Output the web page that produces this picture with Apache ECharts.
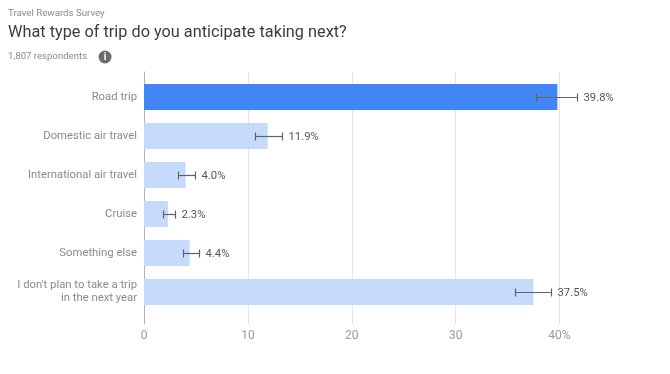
<!DOCTYPE html>
<html>
<head>
<meta charset="utf-8">
<style>html,body{margin:0;padding:0;background:#fff}#c{width:670px;height:374px}</style>
<script src="https://cdn.jsdelivr.net/npm/echarts@6/dist/echarts.min.js"></script>
</head>
<body>
<div id="c"></div>
<script>
const categories = ["Road trip","Domestic air travel","International air travel","Cruise","Something else","I don't plan to take a trip\nin the next year"];
const values = [39.8,11.9,4.0,2.3,4.4,37.5];
const errLow = [37.7,10.7,3.3,1.8,3.8,35.7];
const errHigh = [41.7,13.3,4.9,3.0,5.3,39.2];
const xTicks = [0,10,20,30,40];
const labelFont = 'Roboto, sans-serif';

const chart = echarts.init(document.getElementById('c'), null, {renderer:'canvas'});
const gridLeft = 144, gridRight = 670-559.5;
chart.setOption({
  animation:false,
  backgroundColor:'#fff',
  textStyle:{fontFamily:labelFont},
  title:[
    {text:'Travel Rewards Survey',left:8,top:9,padding:0,textStyle:{fontSize:9.7,fontWeight:'normal',color:'#8a8a8a',fontFamily:labelFont}},
    {text:'What type of trip do you anticipate taking next?',left:8,top:25,padding:0,textStyle:{fontSize:16.3,fontWeight:'normal',color:'#3c3c3c',fontFamily:labelFont}},
    {text:'1,807 respondents',left:8,top:52,padding:0,textStyle:{fontSize:9.6,fontWeight:'normal',color:'#8a8a8a',fontFamily:labelFont}}
  ],
  graphic:[
    {type:'circle',shape:{cx:105,cy:57,r:6.5},style:{fill:'#6b6b6b'},silent:true},
    {type:'text',x:105,y:57,style:{text:'i',fill:'#fff',font:'bold 10px Roboto, sans-serif',align:'center',verticalAlign:'middle'},silent:true}
  ],
  grid:[
    {left:gridLeft,right:gridRight,top:72,height:252},
    {left:gridLeft,right:gridRight,top:77.5,height:234}
  ],
  xAxis:[
    {type:'value',gridIndex:0,min:0,max:40,interval:10,
     axisLine:{show:false},axisTick:{show:false},
     splitLine:{show:true,lineStyle:{color:'#e3e3e3',width:1}},
     axisLabel:{color:'#9a9a9a',fontSize:12,margin:6,fontFamily:labelFont,
       formatter:v=>{const i=xTicks.indexOf(v);return i===xTicks.length-1?xTicks[i]+'%':String(xTicks[i]);}}},
    {type:'value',gridIndex:1,min:0,max:40,interval:10,show:false}
  ],
  yAxis:[
    {type:'value',gridIndex:0,min:0,max:1,show:true,
     axisLine:{show:true,onZero:false,lineStyle:{color:'#b5b5b5',width:1}},
     axisTick:{show:false},axisLabel:{show:false},splitLine:{show:false}},
    {type:'category',gridIndex:1,inverse:true,data:categories,
     axisLine:{show:false},axisTick:{show:false},splitLine:{show:false},
     axisLabel:{color:'#8a8a8a',fontSize:11.3,margin:7,lineHeight:13,align:'right',padding:[4,0,0,0],fontFamily:labelFont}}
  ],
  series:[
    {type:'bar',xAxisIndex:1,yAxisIndex:1,barWidth:26,clip:false,
     data:values.map((v,i)=>({value:v,itemStyle:{color:i===0?'#4285f4':'#c6dafc'}}))},
    {type:'custom',xAxisIndex:1,yAxisIndex:1,clip:false,z:5,
     encode:{x:[1,2],y:0},
     data:categories.map((c,i)=>[i,errLow[i],errHigh[i],values[i]]),
     renderItem:(params,api)=>{
       const y=api.value(0), lo=api.coord([api.value(1),y]), hi=api.coord([api.value(2),y]);
       const st={stroke:'#5f6368',lineWidth:1.2,fill:null};
       const yc=Math.round(lo[1])+0.5, xl=Math.round(lo[0])+0.5, xh=Math.round(hi[0])+0.5;
       return {type:'group',children:[
         {type:'line',shape:{x1:xl,y1:yc,x2:xh,y2:yc},style:st},
         {type:'line',shape:{x1:xl,y1:yc-4,x2:xl,y2:yc+4},style:st},
         {type:'line',shape:{x1:xh,y1:yc-4,x2:xh,y2:yc+4},style:st},
         {type:'text',x:xh+6,y:yc+1,style:{text:api.value(3).toFixed(1)+'%',fill:'#555',font:'11.3px Roboto, sans-serif',align:'left',verticalAlign:'middle'}}
       ]};
     }}
  ]
});
</script>
</body>
</html>
